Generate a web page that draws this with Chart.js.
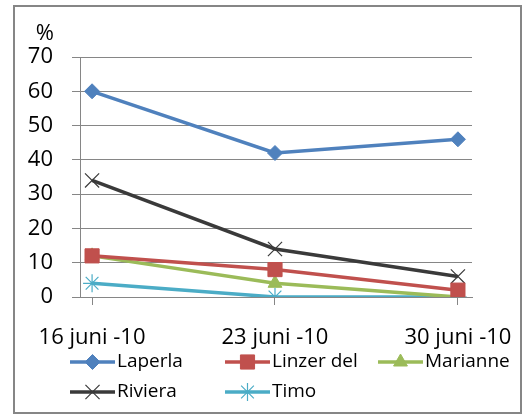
<!DOCTYPE html>
<html>
<head>
<meta charset="utf-8">
<script src="https://cdn.jsdelivr.net/npm/chart.js@4.4.1/dist/chart.umd.min.js"></script>
<style>
  html, body { margin: 0; padding: 0; background: #fff; }
  #wrap { width: 528px; height: 414px; position: relative; }
</style>
</head>
<body>
<div id="wrap"><canvas id="chart" width="528" height="414"></canvas></div>
<script>
// data
const categories = ["16 juni -10", "23 juni -10", "30 juni -10"];
const seriesNames = ["Laperla", "Linzer del", "Marianne", "Riviera", "Timo"];
const laperla = [60, 42, 46];
const linzerDel = [12, 8, 2];
const marianne = [12, 4, 0];
const riviera = [34, 14, 6];
const timo = [4, 0, 0];
const yTicks = [0, 10, 20, 30, 40, 50, 60, 70];

const FONT = "'Open Sans', 'Liberation Sans', sans-serif";
const GRID = "#868686";

const styles = [
  { color: "#4F81BD", point: "rectRot", radius: 7.5, bw: 1 },
  { color: "#C0504D", point: "rect", radius: 10, bw: 1 },
  { color: "#9BBB59", point: "triangle", radius: 8, bw: 1 },
  { color: "#3A3A3A", point: "crossRot", radius: 10, bw: 1.2 },
  { color: "#4BACC6", point: "star", radius: 9, bw: 1.2 },
];

const values = [laperla, linzerDel, marianne, riviera, timo];

const datasets = values.map((vals, k) => ({
  label: seriesNames[k],
  data: vals.map((v, i) => ({ x: i, y: v })),
  borderColor: styles[k].color,
  backgroundColor: styles[k].color,
  borderWidth: 3.5,
  pointStyle: styles[k].point,
  pointRadius: styles[k].radius,
  pointBorderWidth: styles[k].bw,
  pointBackgroundColor: styles[k].color,
  pointBorderColor: styles[k].color,
  tension: 0,
}));

// outer frame + "%" label
const framePlugin = {
  id: "frame",
  afterDraw(chart) {
    const ctx = chart.ctx;
    ctx.save();
    ctx.strokeStyle = "#868686";
    ctx.lineWidth = 2;
    ctx.strokeRect(14, 6, 507, 407);
    ctx.fillStyle = "#000";
    ctx.font = "22px " + FONT;
    ctx.textAlign = "right";
    ctx.textBaseline = "middle";
    ctx.fillText("%", 54, 34);
    ctx.restore();
  },
};

// Excel-like legend: line with marker, two rows
const legendPlugin = {
  id: "excelLegend",
  afterDraw(chart) {
    const ctx = chart.ctx;
    const cols = [70, 225, 378];
    const rows = [362, 392];
    const lineLen = 45;
    ctx.save();
    chart.data.datasets.forEach((ds, i) => {
      const x0 = cols[i % 3];
      const y = rows[Math.floor(i / 3)];
      ctx.strokeStyle = ds.borderColor;
      ctx.fillStyle = ds.borderColor;
      ctx.lineWidth = 3.5;
      ctx.beginPath();
      ctx.moveTo(x0, y);
      ctx.lineTo(x0 + lineLen, y);
      ctx.stroke();
      ctx.lineWidth = ds.pointBorderWidth;
      if (Chart.helpers && Chart.helpers.drawPoint) {
        Chart.helpers.drawPoint(ctx, {
          pointStyle: ds.pointStyle,
          radius: ds.pointRadius,
          borderWidth: ds.pointBorderWidth,
          rotation: 0,
        }, x0 + lineLen / 2, y);
      }
      ctx.fillStyle = "#000";
      ctx.font = "19px " + FONT;
      ctx.textAlign = "left";
      ctx.textBaseline = "middle";
      ctx.fillText(ds.label, x0 + lineLen + 2, y);
    });
    ctx.restore();
  },
};

new Chart(document.getElementById("chart"), {
  type: "line",
  data: { datasets },
  plugins: [framePlugin, legendPlugin],
  options: {
    responsive: false,
    animation: false,
    events: [],
    layout: { padding: { top: 57, right: 56, left: 0, bottom: 57 } },
    plugins: {
      legend: { display: false },
      tooltip: { enabled: false },
    },
    scales: {
      x: {
        type: "linear",
        min: -0.066,
        max: 2.077,
        grid: {
          drawOnChartArea: false,
          tickLength: 8,
          color: GRID,
        },
        border: { color: GRID, width: 1 },
        ticks: {
          stepSize: 1,
          includeBounds: false,
          autoSkip: false,
          maxRotation: 0,
          padding: 20,
          color: "#000",
          font: { family: FONT, size: 22 },
          callback: (v) => (Number.isInteger(v) ? categories[v] : ""),
        },
        afterFit(scale) {
          scale.height = 60;
          scale.paddingLeft = 0;
          scale.paddingRight = 0;
        },
      },
      y: {
        min: 0,
        max: 70,
        afterBuildTicks(scale) { scale.ticks = yTicks.map((v) => ({ value: v })); },
        grid: { color: GRID, tickLength: 8 },
        border: { color: GRID, width: 1 },
        ticks: {
          padding: 19,
          color: "#000",
          font: { family: FONT, size: 22 },
        },
        afterFit(scale) {
          scale.width = 80;
          scale.paddingTop = 0;
          scale.paddingBottom = 0;
        },
      },
    },
  },
});
</script>
</body>
</html>
